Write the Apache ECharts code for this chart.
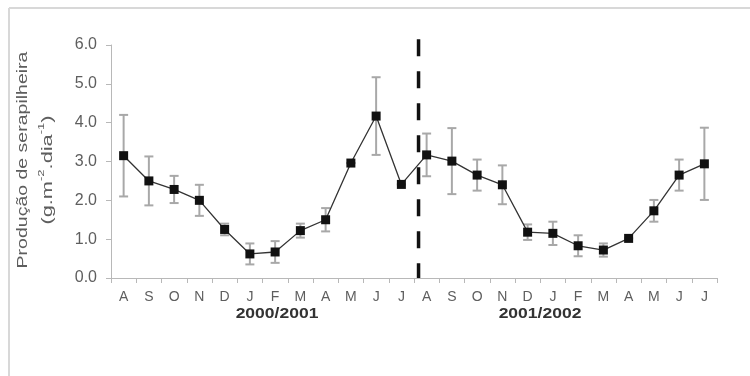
<!DOCTYPE html>
<html>
<head>
<meta charset="utf-8">
<script src="https://cdn.jsdelivr.net/npm/echarts@6/dist/echarts.min.js"></script>
<style>
  html, body { margin: 0; padding: 0; background: #fff; }
  #chart { width: 750px; height: 376px; }
</style>
</head>
<body>
<div id="chart"></div>
<script>
// Monthly litter production, Aug 2000 – Jul 2002
const months = ['A','S','O','N','D','J','F','M','A','M','J','J',
                'A','S','O','N','D','J','F','M','A','M','J','J'];
const production = [3.15, 2.50, 2.28, 2.00, 1.25, 0.62, 0.67, 1.22, 1.50, 2.96, 4.17, 2.41,
                    3.17, 3.01, 2.65, 2.40, 1.18, 1.15, 0.83, 0.72, 1.02, 1.73, 2.65, 2.94];
const stdError = [1.05, 0.63, 0.35, 0.40, 0.15, 0.27, 0.28, 0.18, 0.30, 0.00, 1.00, 0.00,
                  0.55, 0.85, 0.40, 0.50, 0.20, 0.30, 0.27, 0.17, 0.00, 0.28, 0.40, 0.93];
const yTicks = [0, 1, 2, 3, 4, 5, 6];
const seasons = ['2000/2001', '2001/2002'];
// season divider sits between the two J/A months (fraction of a band past index 11)
const dividerIndex = 11;
const dividerOffset = 0.68;

const chart = echarts.init(document.getElementById('chart'), null, { renderer: 'canvas' });

const errorData = production.map((v, i) => [i, v - stdError[i], v + stdError[i]]);
const fontFam = '"Liberation Sans", Arial, sans-serif';
const textGrey = '#5e5e5e';

chart.setOption({
  animation: false,
  backgroundColor: '#fff',
  grid: { left: 111, right: 33, top: 45, bottom: 98, containLabel: false },
  xAxis: {
    type: 'category',
    data: months,
    boundaryGap: true,
    axisLine: { lineStyle: { color: '#b8b8b8', width: 1 } },
    axisTick: { show: true, length: 5, interval: 0, lineStyle: { color: '#b8b8b8' } },
    axisLabel: { interval: 0, margin: 12, color: textGrey, fontSize: 14, fontFamily: fontFam },
    splitLine: { show: false }
  },
  yAxis: {
    type: 'value',
    min: yTicks[0],
    max: yTicks[yTicks.length - 1],
    interval: 1,
    axisLine: { show: true, lineStyle: { color: '#b8b8b8', width: 1 } },
    axisTick: { show: true, length: 5, lineStyle: { color: '#b8b8b8' } },
    axisLabel: { margin: 14, color: textGrey, fontSize: 16, fontFamily: fontFam,
                 formatter: v => v.toFixed(1) },
    splitLine: { show: false }
  },
  series: [
    {
      // season divider
      type: 'custom',
      silent: true,
      data: [[dividerIndex]],
      renderItem: (params, api) => {
        const band = api.size([1, 0])[0];
        const x = api.coord([api.value(0), 0])[0] + band * dividerOffset;
        const yTop = api.coord([0, 6.15])[1];
        const yBot = api.coord([0, 0])[1];
        return {
          type: 'line',
          shape: { x1: x, y1: yTop, x2: x, y2: yBot },
          style: { stroke: '#111', lineWidth: 3.5, lineDash: [17, 15] }
        };
      },
      z: 1
    },
    {
      // error bars
      type: 'custom',
      silent: true,
      data: errorData,
      renderItem: (params, api) => {
        const lo = api.coord([api.value(0), api.value(1)]);
        const hi = api.coord([api.value(0), api.value(2)]);
        const cap = 4.5;
        const style = { stroke: '#a8a8a8', lineWidth: 2 };
        return {
          type: 'group',
          children: [
            { type: 'line', shape: { x1: lo[0], y1: lo[1], x2: hi[0], y2: hi[1] }, style },
            { type: 'line', shape: { x1: lo[0] - cap, y1: lo[1], x2: lo[0] + cap, y2: lo[1] }, style },
            { type: 'line', shape: { x1: hi[0] - cap, y1: hi[1], x2: hi[0] + cap, y2: hi[1] }, style }
          ]
        };
      },
      z: 2
    },
    {
      type: 'line',
      data: production,
      symbol: 'rect',
      symbolSize: 9,
      lineStyle: { color: '#333', width: 1.3 },
      itemStyle: { color: '#111' },
      z: 3
    }
  ],
  graphic: [
    // outer frame (top and left edges)
    { type: 'line', shape: { x1: 9, y1: 8, x2: 750, y2: 8 }, style: { stroke: '#d8d8d8', lineWidth: 2 } },
    { type: 'line', shape: { x1: 9, y1: 8, x2: 9, y2: 376 }, style: { stroke: '#d8d8d8', lineWidth: 2 } },
    // y-axis title
    { type: 'text', x: 23, y: 160, rotation: Math.PI / 2, scaleX: 1.3,
      style: { text: 'Produção de serapilheira', fill: textGrey, font: '15px ' + fontFam,
               textAlign: 'center', textVerticalAlign: 'middle' } },
    { type: 'text', x: 46, y: 170, rotation: Math.PI / 2, scaleX: 1.45,
      style: { text: '{n|(g.m}{s|-2}{n|.dia}{s|-1}{n|)}', textAlign: 'center', textVerticalAlign: 'middle',
               rich: {
                 n: { fill: textGrey, fontSize: 15, fontFamily: fontFam, lineHeight: 18, verticalAlign: 'bottom' },
                 s: { fill: textGrey, fontSize: 9, fontFamily: fontFam, lineHeight: 18, verticalAlign: 'top' }
               } } },
    // season labels
    { type: 'text', x: 277, y: 314, scaleX: 1.25,
      style: { text: seasons[0], fill: '#333', font: 'bold 14px ' + fontFam,
               textAlign: 'center', textVerticalAlign: 'middle' } },
    { type: 'text', x: 540, y: 314, scaleX: 1.25,
      style: { text: seasons[1], fill: '#333', font: 'bold 14px ' + fontFam,
               textAlign: 'center', textVerticalAlign: 'middle' } }
  ]
});
</script>
</body>
</html>
